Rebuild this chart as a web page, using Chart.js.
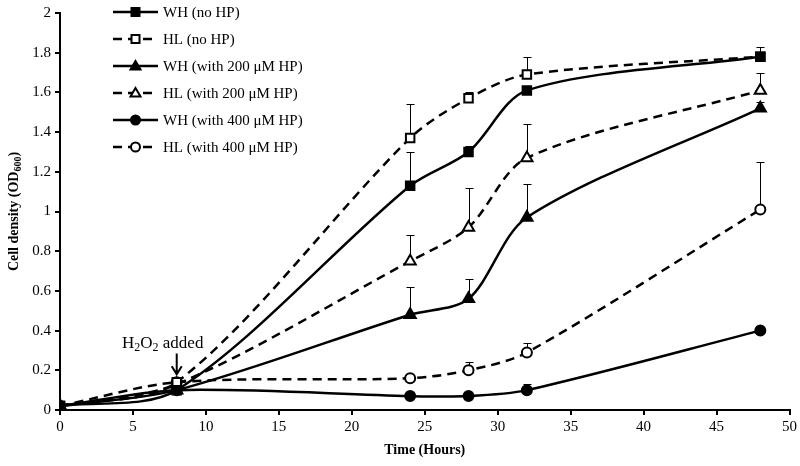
<!DOCTYPE html>
<html>
<head>
<meta charset="utf-8">
<script src="https://cdn.jsdelivr.net/npm/chart.js@4.4.1/dist/chart.umd.min.js"></script>
<style>
    html, body { margin: 0; padding: 0; background: #fff; }
    #wrap { width: 800px; height: 466px; }
</style>
</head>
<body>
<div id="wrap"><canvas id="growthChart" width="800" height="466"></canvas></div>
<script>
// Growth curves, OD600 vs time
const times = [0, 8, 24, 28, 32, 48];

const whNoHp   = [0.02, 0.10, 1.13, 1.30, 1.61, 1.78];
const hlNoHp   = [0.02, 0.14, 1.37, 1.57, 1.69, 1.78];
const wh200    = [0.02, 0.10, 0.48, 0.56, 0.97, 1.52];
const hl200    = [0.02, 0.13, 0.75, 0.92, 1.27, 1.61];
const wh400    = [0.02, 0.10, 0.07, 0.07, 0.10, 0.40];
const hl400    = [0.02, 0.14, 0.16, 0.20, 0.29, 1.01];

// upper error bars (SD)
const whNoHpErr = [0, 0.01, 0.17, 0.03, 0.02, 0.05];
const hlNoHpErr = [0, 0.02, 0.17, 0.03, 0.09, 0.02];
const wh200Err  = [0, 0.01, 0.14, 0.10, 0.17, 0.03];
const hl200Err  = [0, 0.02, 0.13, 0.20, 0.17, 0.09];
const wh400Err  = [0, 0.01, 0.01, 0.01, 0.03, 0.01];
const hl400Err  = [0, 0.02, 0.01, 0.04, 0.05, 0.24];

const seriesLabels = [
    'WH (no HP)',
    'HL (no HP)',
    'WH (with 200 \u03BCM HP)',
    'HL (with 200 \u03BCM HP)',
    'WH (with 400 \u03BCM HP)',
    'HL (with 400 \u03BCM HP)'
];

const xTicks = [0, 5, 10, 15, 20, 25, 30, 35, 40, 45, 50];
const yTicks = [0, 0.2, 0.4, 0.6, 0.8, 1, 1.2, 1.4, 1.6, 1.8, 2];

const serif = "'Liberation Serif', 'Times New Roman', serif";
const dash = [9, 6];

function toPoints(values) {
    return times.map((t, i) => ({ x: t, y: values[i] }));
}

function markerRadius(style) {
    if (style === 'rect') return 6;
    if (style === 'triangle') return 6.5;
    return 5;
}

function makeSet(label, values, errs, style, filled, dashed) {
    return {
        label: label,
        data: toPoints(values),
        errors: errs,
        borderColor: '#000',
        borderWidth: 2.5,
        borderDash: dashed ? dash : [],
        tension: 0.3,
        fill: false,
        pointStyle: style,
        pointRadius: markerRadius(style),
        pointBorderWidth: 2,
        pointBorderColor: '#000',
        pointBackgroundColor: filled ? '#000' : '#fff'
    };
}

// error bars, drawn under the lines and markers
const errorBars = {
    id: 'errorBars',
    beforeDatasetsDraw(chart) {
        const ctx = chart.ctx;
        const xs = chart.scales.x;
        const ys = chart.scales.y;
        ctx.save();
        ctx.strokeStyle = '#000';
        ctx.lineWidth = 1;
        chart.data.datasets.forEach(ds => {
            ds.data.forEach((p, i) => {
                const e = ds.errors[i];
                if (!e) return;
                const px = Math.round(xs.getPixelForValue(p.x)) + 0.5;
                const y0 = ys.getPixelForValue(p.y);
                const y1 = Math.round(ys.getPixelForValue(p.y + e)) + 0.5;
                ctx.beginPath();
                ctx.moveTo(px, y0);
                ctx.lineTo(px, y1);
                ctx.moveTo(px - 4, y1);
                ctx.lineTo(px + 4, y1);
                ctx.stroke();
            });
        });
        ctx.restore();
    }
};

// legend inside plot, annotation and y title with subscripts
const extras = {
    id: 'extras',
    afterDraw(chart) {
        const ctx = chart.ctx;
        const xs = chart.scales.x;
        const ys = chart.scales.y;
        ctx.save();

        // legend
        const lx0 = 113, lx1 = 158, ly0 = 12, lstep = 27;
        const mx = (lx0 + lx1) / 2;
        chart.data.datasets.forEach((ds, i) => {
            const y = ly0 + i * lstep;
            ctx.strokeStyle = '#000';
            ctx.lineWidth = 2.5;
            ctx.setLineDash(ds.borderDash);
            ctx.beginPath();
            ctx.moveTo(lx0, y);
            ctx.lineTo(lx1, y);
            ctx.stroke();
            ctx.setLineDash([]);
            ctx.fillStyle = ds.pointBackgroundColor;
            ctx.lineWidth = 2;
            ctx.beginPath();
            if (ds.pointStyle === 'rect') {
                ctx.rect(mx - 4, y - 4, 8, 8);
            } else if (ds.pointStyle === 'circle') {
                ctx.arc(mx, y, 4.5, 0, Math.PI * 2);
            } else {
                ctx.moveTo(mx, y - 5);
                ctx.lineTo(mx + 5, y + 3.5);
                ctx.lineTo(mx - 5, y + 3.5);
                ctx.closePath();
            }
            ctx.fill();
            ctx.stroke();
            ctx.fillStyle = '#000';
            ctx.font = '15px ' + serif;
            ctx.textBaseline = 'middle';
            ctx.textAlign = 'left';
            ctx.fillText(ds.label, 163, y + 1);
        });

        // H2O2 added annotation
        const ax = xs.getPixelForValue(8);
        const aTop = ys.getPixelForValue(0.285);
        const aTip = ys.getPixelForValue(0.18);
        ctx.strokeStyle = '#000';
        ctx.lineWidth = 2;
        ctx.beginPath();
        ctx.moveTo(ax, aTop);
        ctx.lineTo(ax, aTip);
        ctx.moveTo(ax - 5, aTip - 8);
        ctx.lineTo(ax, aTip);
        ctx.lineTo(ax + 5, aTip - 8);
        ctx.stroke();

        const parts = [['H', 0], ['2', 1], ['O', 0], ['2', 1], [' added', 0]];
        let tx = 122;
        const ty = ys.getPixelForValue(0.31);
        ctx.textAlign = 'left';
        ctx.textBaseline = 'alphabetic';
        parts.forEach(([s, sub]) => {
            ctx.font = (sub ? '12px ' : '17px ') + serif;
            ctx.fillText(s, tx, ty + (sub ? 3 : 0));
            tx += ctx.measureText(s).width;
        });

        // y axis title
        ctx.translate(14, (ys.top + ys.bottom) / 2);
        ctx.rotate(-Math.PI / 2);
        ctx.textBaseline = 'middle';
        const tparts = [['Cell density (OD', 0], ['600', 1], [')', 0]];
        let w = 0;
        tparts.forEach(([s, sub]) => {
            ctx.font = 'bold ' + (sub ? '10px ' : '14px ') + serif;
            w += ctx.measureText(s).width;
        });
        let cx = -w / 2;
        tparts.forEach(([s, sub]) => {
            ctx.font = 'bold ' + (sub ? '10px ' : '14px ') + serif;
            ctx.fillText(s, cx, sub ? 4 : 0);
            cx += ctx.measureText(s).width;
        });

        ctx.restore();
    }
};

new Chart(document.getElementById('growthChart'), {
    type: 'line',
    data: {
        datasets: [
            makeSet(seriesLabels[0], whNoHp, whNoHpErr, 'rect', true, false),
            makeSet(seriesLabels[1], hlNoHp, hlNoHpErr, 'rect', false, true),
            makeSet(seriesLabels[2], wh200, wh200Err, 'triangle', true, false),
            makeSet(seriesLabels[3], hl200, hl200Err, 'triangle', false, true),
            makeSet(seriesLabels[4], wh400, wh400Err, 'circle', true, false),
            makeSet(seriesLabels[5], hl400, hl400Err, 'circle', false, true)
        ]
    },
    options: {
        responsive: false,
        animation: false,
        layout: { padding: { top: 8, right: 6, left: 0, bottom: 0 } },
        plugins: {
            legend: { display: false },
            tooltip: { enabled: false }
        },
        scales: {
            x: {
                type: 'linear',
                min: 0,
                max: 50,
                afterBuildTicks: axis => { axis.ticks = xTicks.map(v => ({ value: v })); },
                afterFit: axis => { axis.height = 56; },
                border: { display: true, color: '#000', width: 2 },
                grid: { drawOnChartArea: false, drawTicks: true, tickLength: 5, color: '#000', lineWidth: 2 },
                ticks: { color: '#000', font: { family: serif, size: 15 }, padding: 3, maxRotation: 0 },
                title: {
                    display: true,
                    text: 'Time (Hours)',
                    color: '#000',
                    font: { family: serif, size: 14, weight: 'bold' },
                    padding: { top: 2, bottom: 7 }
                }
            },
            y: {
                min: 0,
                max: 2,
                afterBuildTicks: axis => { axis.ticks = yTicks.map(v => ({ value: v })); },
                afterFit: axis => { axis.width = 60; },
                border: { display: true, color: '#000', width: 2 },
                grid: { drawOnChartArea: false, drawTicks: true, tickLength: 5, color: '#000', lineWidth: 2 },
                ticks: {
                    color: '#000',
                    font: { family: serif, size: 15 },
                    padding: 4,
                    callback: v => String(Math.round(v * 10) / 10)
                }
            }
        }
    },
    plugins: [errorBars, extras]
});
</script>
</body>
</html>
